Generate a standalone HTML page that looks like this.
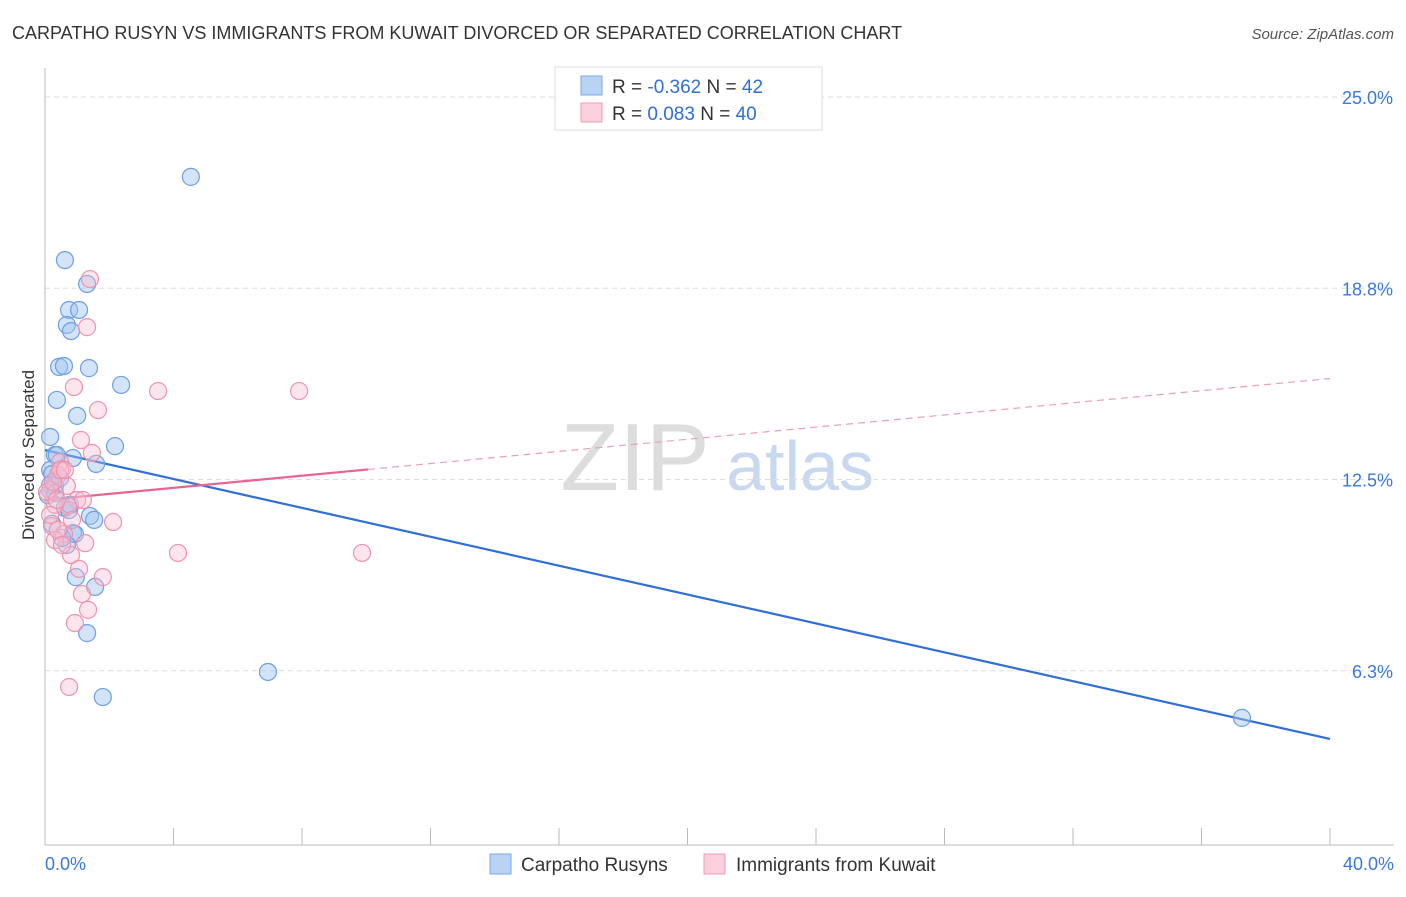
<!DOCTYPE html>
<html><head><meta charset="utf-8"><style>
body{margin:0;background:#fff;font-family:"Liberation Sans",sans-serif;}
svg text{font-family:"Liberation Sans",sans-serif;}
</style></head><body>
<svg id="chart" width="1406" height="892" viewBox="0 0 1406 892" xmlns="http://www.w3.org/2000/svg">
<text x="12" y="39" font-size="18" fill="#333">CARPATHO RUSYN VS IMMIGRANTS FROM KUWAIT DIVORCED OR SEPARATED CORRELATION CHART</text>
<text x="1394" y="39" font-size="15" fill="#555" text-anchor="end" font-style="italic">Source: ZipAtlas.com</text>
<g>
<text x="635" y="490" font-size="96" fill="#ddd" text-anchor="middle" font-family="Liberation Serif">ZIP</text>
<text x="800" y="490" font-size="70" fill="#c8d8f0" text-anchor="middle">atlas</text>
</g>
<g id="grid"></g>
<g id="axes"></g>
<g id="lines"></g>
<g id="points"></g>
<text transform="translate(34,455) rotate(-90)" font-size="17" fill="#333" text-anchor="middle">Divorced or Separated</text>
<g>
<rect x="555" y="67" width="267" height="63" fill="#fff" stroke="#ddd"/>
<rect x="581" y="76" width="21" height="19" fill="#b9d3f5" stroke="#7aa7e6"/>
<rect x="581" y="103" width="21" height="19" fill="#fbd0dc" stroke="#f29ab3"/>
<text x="612" y="93" font-size="19" fill="#333">R = <tspan fill="#2f6fd6">-0.362</tspan>   N = <tspan fill="#2f6fd6">42</tspan></text>
<text x="612" y="120" font-size="19" fill="#333">R =  <tspan fill="#2f6fd6">0.083</tspan>   N = <tspan fill="#2f6fd6">40</tspan></text>
</g>
<g>
<rect x="490" y="854" width="21" height="20" fill="#b9d3f5" stroke="#7aa7e6"/>
<text x="521" y="871" font-size="19" fill="#333">Carpatho Rusyns</text>
<rect x="704" y="854" width="21" height="20" fill="#fbd0dc" stroke="#f29ab3"/>
<text x="736" y="871" font-size="19" fill="#333">Immigrants from Kuwait</text>
</g>
</svg>
<script>
const blueX=[4.54,0.62,1.31,0.75,1.06,0.68,0.81,0.44,0.59,1.37,2.37,0.37,1.00,0.16,2.18,0.31,0.37,0.87,1.59,0.16,0.22,0.31,0.62,0.75,1.40,1.53,0.22,0.87,0.93,0.68,0.96,1.56,1.31,6.94,1.80,37.26,0.16,0.09,0.47,0.31,0.78,0.53];
const blueY=[22.39,19.67,18.89,18.04,18.04,17.55,17.35,16.18,16.21,16.14,15.59,15.10,14.58,13.89,13.59,13.30,13.30,13.20,13.01,12.81,12.68,12.29,11.57,11.50,11.31,11.18,11.05,10.75,10.72,10.36,9.31,8.99,7.48,6.21,5.39,4.71,12.32,11.99,12.55,12.06,11.67,10.59];
const pinkX=[1.40,1.31,0.90,3.52,7.91,1.65,1.12,1.46,0.47,0.53,0.40,0.68,0.16,1.00,1.18,0.72,0.31,2.12,0.22,0.59,0.31,1.25,0.81,4.14,9.87,1.06,1.80,1.15,1.34,0.93,0.75,0.06,0.25,0.47,0.62,0.37,0.16,0.84,0.40,0.53];
const pinkY=[19.05,17.48,15.52,15.39,15.39,14.77,13.79,13.37,13.07,12.84,12.65,12.29,12.16,11.83,11.83,11.63,11.67,11.11,10.98,10.72,10.52,10.42,10.03,10.10,10.10,9.58,9.31,8.76,8.24,7.81,5.72,12.09,12.42,12.81,12.81,11.83,11.34,11.18,10.85,10.36];
const yTicks=[25,18.75,12.5,6.25];
const yTickLabels=["25.0%","18.8%","12.5%","6.3%"];
const xTicks=[0,4,8,12,16,20,24,28,32,36,40];
const blueTrend=[13.46,4.02];
const pinkTrend=[11.83,15.80];
const pinkSolidEnd=10.06;

const NS="http://www.w3.org/2000/svg";
const X=v=>45+v/40*1285;
const Y=v=>862-v*30.6;
function mk(tag,attrs,parent){const e=document.createElementNS(NS,tag);for(const k in attrs)e.setAttribute(k,attrs[k]);document.getElementById(parent).appendChild(e);return e;}
yTicks.forEach((t,i)=>{
 const l=mk('line',{x1:45,x2:1394,y1:Y(t),y2:Y(t),stroke:'#ddd','stroke-dasharray':'5,4'},'grid');
 
 
 const tx=mk('text',{x:1393,y:Y(t)+7,'font-size':18,fill:'#3b78d8','text-anchor':'end'},'grid');
 tx.textContent=yTickLabels[i];
 
 
});
const ya=mk('line',{x1:45,x2:45,y1:68,y2:845,stroke:'#bbb'},'axes');


const xa=mk('line',{x1:45,x2:1394,y1:845,y2:845,stroke:'#bbb'},'axes');


xTicks.forEach(t=>{
 const l=mk('line',{x1:X(t),x2:X(t),y1:828,y2:845,stroke:'#bbb'},'axes');
 
 
});
const xl0=mk('text',{x:45,y:870,'font-size':18,fill:'#3b78d8'},'axes');xl0.textContent='0.0%';


const xl1=mk('text',{x:1394,y:870,'font-size':18,fill:'#3b78d8','text-anchor':'end'},'axes');xl1.textContent='40.0%';



const pY=x=>pinkTrend[0]+(pinkTrend[1]-pinkTrend[0])*x/40;
const bl=mk('line',{x1:X(0),y1:Y(blueTrend[0]),x2:X(40),y2:Y(blueTrend[1]),stroke:'#2f6fd6','stroke-width':2.2},'lines');


const ps=mk('line',{x1:X(0),y1:Y(pY(0)),x2:X(pinkSolidEnd),y2:Y(pY(pinkSolidEnd)),stroke:'#e8648e','stroke-width':2.2},'lines');


const pd=mk('line',{x1:X(pinkSolidEnd),y1:Y(pY(pinkSolidEnd)),x2:X(40),y2:Y(pY(40)),stroke:'#e8a0b6','stroke-width':1.2,'stroke-dasharray':'7,5'},'lines');



blueX.forEach((x,i)=>{
 const c=mk('circle',{cx:X(x),cy:Y(blueY[i]),r:8.5,fill:'rgba(160,195,240,0.45)',stroke:'#6d9fe3','stroke-width':1.2},'points');
 
 
});
pinkX.forEach((x,i)=>{
 const c=mk('circle',{cx:X(x),cy:Y(pinkY[i]),r:8.5,fill:'rgba(248,190,208,0.4)',stroke:'#ee93ae','stroke-width':1.2},'points');
 
 
});
</script>
</body></html>
